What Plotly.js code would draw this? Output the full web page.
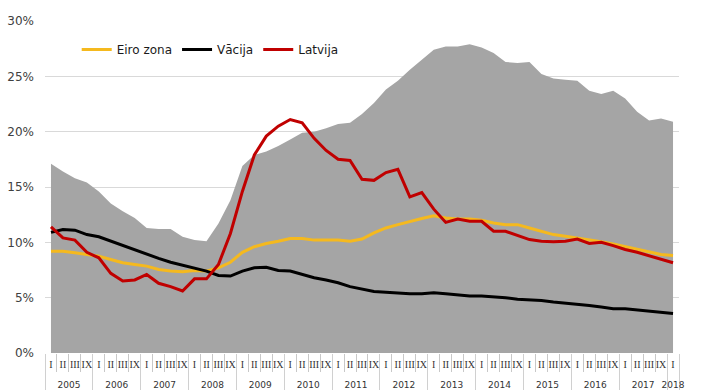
<!DOCTYPE html>
<html>
<head>
<meta charset="utf-8">
<script src="https://cdn.plot.ly/plotly-3.0.1.min.js"></script>
<style>html,body{margin:0;padding:0;background:#fff;}#chart{width:703px;height:392px;}</style>
</head>
<body>
<div id="chart"></div>
<script>
// Category labels
var yearLabels = ['2005','2006','2007','2008','2009','2010','2011','2012','2013','2014','2015','2016','2017','2018'];
var quarterLabels = ['I','II','III','IX'];

// Series values (%), quarterly 2005 I .. 2018 I
var grayMax = [17.1,16.4,15.8,15.4, 14.6,13.5,12.8,12.2, 11.3,11.2,11.2,10.5, 10.2,10.1,11.7,13.8,
  16.9,17.9,18.2,18.7, 19.3,19.9,20.0,20.3, 20.7,20.8,21.6,22.6, 23.8,24.6,25.6,26.5,
  27.4,27.7,27.7,27.9, 27.6,27.1,26.3,26.2, 26.3,25.2,24.8,24.7, 24.6,23.7,23.4,23.7,
  23.0,21.8,21.0,21.2, 20.9];
var euroZone = [9.2,9.2,9.05,8.9, 8.75,8.45,8.15,8.0, 7.85,7.55,7.4,7.35, 7.45,7.4,7.7,8.2,
  9.1,9.6,9.9,10.1, 10.35,10.35,10.2,10.2, 10.2,10.1,10.3,10.85, 11.3,11.6,11.9,12.15,
  12.4,12.2,12.1,12.1, 12.0,11.75,11.6,11.6, 11.3,11.0,10.7,10.55, 10.4,10.25,10.05,9.85,
  9.6,9.35,9.1,8.9, 8.8];
var germany = [10.9,11.15,11.1,10.7, 10.5,10.1,9.7,9.3, 8.9,8.55,8.2,7.95, 7.7,7.4,7.0,6.95,
  7.4,7.7,7.75,7.45, 7.4,7.1,6.8,6.6, 6.35,6.0,5.75,5.55, 5.5,5.4,5.35,5.35,
  5.45,5.35,5.25,5.15, 5.15,5.1,5.0,4.85, 4.8,4.75,4.6,4.5, 4.45,4.3,4.15,4.0,
  4.0,3.9,3.75,3.65, 3.57];
var latvia = [11.4,10.4,10.2,9.1, 8.6,7.2,6.5,6.6, 7.1,6.3,6.0,5.6, 6.7,6.7,8.0,10.8,
  14.6,17.9,19.6,20.5, 21.1,20.8,19.4,18.3, 17.5,17.4,15.7,15.6, 16.3,16.6,14.1,14.5,
  13.0,11.8,12.1,11.9, 11.9,11.0,11.0,10.6, 10.25,10.1,10.05,10.1, 10.3,9.9,10.0,9.7,
  9.35,9.1,8.8,8.5, 8.15];
var seriesNames = ['Eiro zona','Vācija','Latvija'];

// Build the two-level category axis from the label arrays
var xOuter = [], xInner = [];
for (var n = 0; n < grayMax.length; n++) {
  xOuter.push('<br>' + yearLabels[Math.floor(n / 4)]);
  xInner.push('<span style="font-family:Liberation Serif;font-size:10px">' + quarterLabels[n % 4] + '</span>');
}
var X = [xOuter, xInner];

var traces = [
  {x: X, y: grayMax, type: 'scatter', mode: 'lines', fill: 'tozeroy', fillcolor: '#A5A5A5',
   line: {width: 0, color: '#A5A5A5'}, showlegend: false, hoverinfo: 'skip'},
  {x: X, y: euroZone, type: 'scatter', mode: 'lines', name: seriesNames[0], line: {color: '#F5B91E', width: 3}},
  {x: X, y: germany, type: 'scatter', mode: 'lines', name: seriesNames[1], line: {color: '#000000', width: 3}},
  {x: X, y: latvia, type: 'scatter', mode: 'lines', name: seriesNames[2], line: {color: '#C00000', width: 3}}
];

var layout = {
  width: 703, height: 392,
  margin: {l: 45, r: 24, t: 21, b: 39, pad: 0},
  paper_bgcolor: '#ffffff', plot_bgcolor: '#ffffff',
  showlegend: true,
  legend: {orientation: 'h', x: 0.05, xanchor: 'left', y: 0.914, yanchor: 'middle',
    font: {family: 'DejaVu Sans', size: 12, color: '#1a1a1a'}, bgcolor: 'rgba(0,0,0,0)'},
  xaxis: {type: 'multicategory', range: [-0.5, 52.5], showgrid: false, showline: false, zeroline: false,
    ticks: 'outside', ticklen: 18, tickcolor: '#C8C8C8', tickwidth: 1, tickangle: 0,
    showdividers: true, dividercolor: '#D0D0D0', dividerwidth: 1,
    ticklabelstandoff: 5, automargin: false,
    tickfont: {family: 'DejaVu Sans', size: 9, color: '#333333'}},
  yaxis: {range: [0, 30], dtick: 5, tick0: 0, ticksuffix: '%', showgrid: true, gridcolor: '#D9D9D9', gridwidth: 1,
    zeroline: false, showline: false, ticks: '', ticklabelstandoff: 10, automargin: false,
    tickfont: {family: 'DejaVu Sans', size: 12, color: '#404040'}}
};

Plotly.newPlot('chart', traces, layout, {displayModeBar: false, staticPlot: true});
</script>
</body>
</html>
